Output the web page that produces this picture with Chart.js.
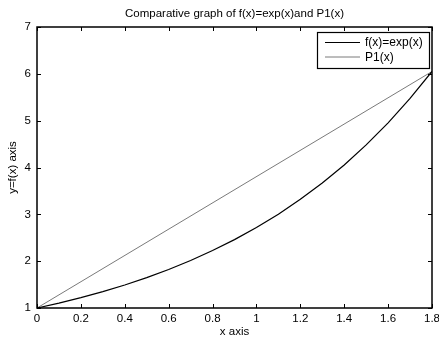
<!DOCTYPE html>
<html>
<head>
<meta charset="utf-8">
<script src="https://cdn.jsdelivr.net/npm/chart.js@4/dist/chart.umd.min.js"></script>
<style>
  html, body { margin: 0; padding: 0; background: #fff; }
  #wrap { width: 439px; height: 338px; }
</style>
</head>
<body>
<div id="wrap"><canvas id="grafico"></canvas></div>
<script>
// values
const xVals = [0, 0.1, 0.2, 0.3, 0.4, 0.5, 0.6, 0.7, 0.8, 0.9, 1.0, 1.1, 1.2, 1.3, 1.4, 1.5, 1.6, 1.7, 1.8];
const expVals = [1.0, 1.105, 1.221, 1.35, 1.492, 1.649, 1.822, 2.014, 2.226, 2.46, 2.718, 3.004, 3.32, 3.669, 4.055, 4.482, 4.953, 5.474, 6.05];
const p1X = [0, 1.8];
const p1Vals = [1.0, 6.05];
const seriesNames = ['f(x)=exp(x)', 'P1(x)'];
const xTicks = [0, 0.2, 0.4, 0.6, 0.8, 1, 1.2, 1.4, 1.6, 1.8];
const yTicks = [1, 2, 3, 4, 5, 6, 7];
const titulo = 'Comparative graph of f(x)=exp(x)and P1(x)';

const fonte = 'Arial, "Liberation Sans", sans-serif';
const cores = ['#000000', '#7a7a7a'];

// box + inward ticks + legend + title over the axes, matlab style
const caixa = {
    id: 'caixa',
    afterDatasetsDraw(chart) {
        const ctx = chart.ctx;
        const a = chart.chartArea;
        const sx = chart.scales.x, sy = chart.scales.y;
        ctx.save();
        ctx.strokeStyle = '#000';
        ctx.lineWidth = 1.5;
        ctx.strokeRect(a.left, a.top, a.right - a.left, a.bottom - a.top);
        ctx.lineWidth = 1;
        ctx.beginPath();
        xTicks.forEach(v => {
            const px = Math.round(sx.getPixelForValue(v)) + 0.5;
            ctx.moveTo(px, a.bottom); ctx.lineTo(px, a.bottom - 4);
            ctx.moveTo(px, a.top); ctx.lineTo(px, a.top + 4);
        });
        yTicks.forEach(v => {
            const py = Math.round(sy.getPixelForValue(v)) + 0.5;
            ctx.moveTo(a.left, py); ctx.lineTo(a.left + 4, py);
            ctx.moveTo(a.right, py); ctx.lineTo(a.right - 4, py);
        });
        ctx.stroke();

        // titulo centrado sobre a area do grafico
        ctx.fillStyle = '#000';
        ctx.font = '11.5px ' + fonte;
        ctx.textAlign = 'center';
        ctx.textBaseline = 'middle';
        ctx.fillText(titulo, (a.left + a.right) / 2, 14);

        // legenda
        const lx = 317, ly = 32, lw = 112, lh = 36;
        ctx.textAlign = 'left';
        ctx.fillStyle = '#fff';
        ctx.fillRect(lx, ly, lw, lh);
        ctx.lineWidth = 1.2;
        ctx.strokeStyle = '#000';
        ctx.strokeRect(lx + 0.5, ly + 0.5, lw, lh);
        ctx.font = '12px ' + fonte;
        chart.data.datasets.forEach((ds, i) => {
            const y = ly + 10 + i * 14.5;
            ctx.strokeStyle = ds.borderColor;
            ctx.lineWidth = ds.borderWidth;
            ctx.beginPath();
            ctx.moveTo(lx + 8, y + 0.5); ctx.lineTo(lx + 43, y + 0.5);
            ctx.stroke();
            ctx.fillStyle = '#000';
            ctx.fillText(ds.label, lx + 48, y + 1);
        });
        ctx.restore();
    }
};

new Chart(document.getElementById('grafico').getContext('2d'), {
    type: 'line',
    data: {
        datasets: [{
            label: seriesNames[0],
            data: xVals.map((x, i) => ({ x: x, y: expVals[i] })),
            borderColor: cores[0],
            borderWidth: 1.2,
            pointRadius: 0,
            tension: 0
        }, {
            label: seriesNames[1],
            data: p1X.map((x, i) => ({ x: x, y: p1Vals[i] })),
            borderColor: cores[1],
            borderWidth: 1,
            pointRadius: 0,
            tension: 0
        }]
    },
    options: {
        responsive: true,
        maintainAspectRatio: false,
        animation: false,
        layout: { padding: { left: 0, right: 7, top: 27, bottom: 0 } },
        plugins: {
            legend: { display: false },
            tooltip: { enabled: false },
            title: { display: false }
        },
        scales: {
            x: {
                type: 'linear',
                min: 0,
                max: 1.8,
                afterBuildTicks(scale) { scale.ticks = xTicks.map(v => ({ value: v })); },
                afterFit(scale) {
                    scale.height = 30;
                    scale.paddingLeft = 0;
                    scale.paddingRight = 0;
                },
                grid: { display: false, drawTicks: false },
                border: { display: false },
                ticks: {
                    color: '#000',
                    padding: 4,
                    maxRotation: 0,
                    font: { family: fonte, size: 11.5 },
                    callback: v => String(Math.round(v * 10) / 10)
                },
                title: {
                    display: true,
                    text: 'x axis',
                    color: '#000',
                    font: { family: fonte, size: 11.5 },
                    padding: { top: 0, bottom: -1 }
                }
            },
            y: {
                min: 1,
                max: 7,
                afterBuildTicks(scale) { scale.ticks = yTicks.map(v => ({ value: v })); },
                afterFit(scale) {
                    scale.width = 37;
                    scale.paddingTop = 0;
                    scale.paddingBottom = 0;
                },
                grid: { display: false, drawTicks: false },
                border: { display: false },
                ticks: {
                    color: '#000',
                    padding: 6,
                    font: { family: fonte, size: 11.5 }
                },
                title: {
                    display: true,
                    text: 'y=f(x) axis',
                    color: '#000',
                    font: { family: fonte, size: 11.5 },
                    padding: { top: 6, bottom: 2 }
                }
            }
        }
    },
    plugins: [caixa]
});
</script>
</body>
</html>
